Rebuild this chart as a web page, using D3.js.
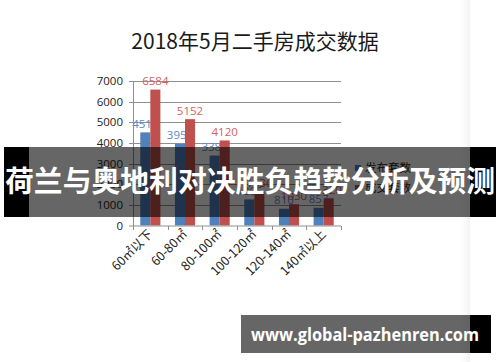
<!DOCTYPE html>
<html><head><meta charset="utf-8">
<script src="https://cdn.jsdelivr.net/npm/d3@7"></script>
<style>html,body{margin:0;padding:0;background:#fff;}svg{display:block;}</style>
</head><body>
<svg id="c" width="500" height="362"></svg>
<script>
const categories = ["60㎡以下","60-80㎡","80-100㎡","100-120㎡","120-140㎡","140㎡以上"];
const seriesNames = ["发布套数","成交套数"];
const published = [4511,3955,3388,1265,810,857];
const deals = [6584,5152,4120,1636,1030,1320];
const yTicks = [0,1000,2000,3000,4000,5000,6000,7000];
const title = "2018年5月二手房成交数据";
const bannerText = "荷兰与奥地利对决胜负趋势分析及预测";
const watermark = "www.global-pazhenren.com";
const colors = ["#4F81BD","#C0504D"];
const labelColors = ["#5B8BC9","#D6605C"];

const svg = d3.select("#c");
const cjk = "'Noto Sans CJK SC','Noto Sans',sans-serif";
const num = "'Open Sans','Liberation Sans',sans-serif";

// right edge shade of the embedded picture
const defs = svg.append("defs");
const g1 = defs.append("linearGradient").attr("id","edge").attr("x1","0").attr("x2","1");
g1.append("stop").attr("offset","0").attr("stop-color","#fff");
g1.append("stop").attr("offset","1").attr("stop-color","#f3f3f3");
svg.append("rect").attr("x",461).attr("y",0).attr("width",9).attr("height",362).attr("fill","url(#edge)");

svg.append("text").attr("x",255).attr("y",49).attr("text-anchor","middle")
  .attr("font-family",cjk).attr("font-size",21).attr("fill","#1a1a1a").text(title);

const x0 = d3.scaleBand().domain(categories).range([133,341]).paddingInner(0.42).paddingOuter(0.21);
const x1 = d3.scaleBand().domain([0,1]).range([0,x0.bandwidth()]);
const y = d3.scaleLinear().domain([0,7000]).range([225.5,81]);

// gridlines
svg.append("g").selectAll("line").data(yTicks.filter(d=>d>0)).join("line")
  .attr("x1",129).attr("x2",341).attr("y1",d=>Math.round(y(d))+0.5).attr("y2",d=>Math.round(y(d))+0.5)
  .attr("stroke","#8f8f8f").attr("stroke-width",1);
// tick labels
svg.append("g").selectAll("text").data(yTicks).join("text")
  .attr("x",123).attr("y",d=>Math.round(y(d))+4).attr("text-anchor","end")
  .attr("font-family",num).attr("font-size",11.5).attr("fill","#222").text(d=>d);

// bars
const seriesData = [published, deals];
seriesData.forEach((vals,si)=>{
  svg.append("g").selectAll("rect").data(vals).join("rect")
    .attr("x",(d,i)=>x0(categories[i])+x1(si)).attr("width",x1.bandwidth())
    .attr("y",d=>y(d)).attr("height",d=>y(0)-y(d)).attr("fill",colors[si]);
  svg.append("g").selectAll("text").data(vals).join("text")
    .attr("x",(d,i)=>x0(categories[i])+x1(si)+x1.bandwidth()/2).attr("y",d=>y(d)-4.5)
    .attr("text-anchor","middle").attr("font-family",num).attr("font-size",11.5)
    .attr("fill",labelColors[si]).text(d=>d);
});

// axes lines
svg.append("line").attr("x1",133.5).attr("x2",133.5).attr("y1",81).attr("y2",229).attr("stroke","#8f8f8f");
svg.append("line").attr("x1",129).attr("x2",341).attr("y1",226).attr("y2",226).attr("stroke","#8f8f8f");
const bounds = categories.map(c=>x0(c)-x0.step()*0.21).concat([341]);
svg.append("g").selectAll("line").data(bounds).join("line")
  .attr("x1",d=>Math.round(d)+0.5).attr("x2",d=>Math.round(d)+0.5).attr("y1",226).attr("y2",230)
  .attr("stroke","#8f8f8f");

// x labels
svg.append("g").selectAll("text").data(categories).join("text")
  .attr("transform",c=>`translate(${x0(c)+x0.bandwidth()/2+3},235) rotate(-45)`)
  .attr("text-anchor","end").attr("font-family",cjk).attr("font-size",12.5).attr("fill","#222").text(c=>c);

// legend
seriesNames.forEach((n,i)=>{
  svg.append("rect").attr("x",355).attr("y",165+i*20).attr("width",6).attr("height",6).attr("fill",colors[i]);
  svg.append("text").attr("x",365).attr("y",172+i*20).attr("font-family",cjk).attr("font-size",11.5)
    .attr("fill","#222").text(n);
});

// banner overlay
svg.append("rect").attr("x",4).attr("y",147).attr("width",25).attr("height",70).attr("fill","#000");
svg.append("rect").attr("x",470).attr("y",147).attr("width",26).attr("height",70).attr("fill","#000");
svg.append("rect").attr("x",29).attr("y",147).attr("width",441).attr("height",70).attr("fill","rgba(0,0,0,0.6)");
svg.append("text").attr("x",250).attr("y",192).attr("text-anchor","middle")
  .attr("font-family",cjk).attr("font-weight","bold").attr("font-size",29).attr("fill","#fff")
  .attr("textLength",490).attr("lengthAdjust","spacingAndGlyphs").text(bannerText);

// watermark
svg.append("rect").attr("x",241).attr("y",315).attr("width",229).attr("height",38).attr("fill","rgba(0,0,0,0.6)");
svg.append("rect").attr("x",470).attr("y",315).attr("width",21).attr("height",38).attr("fill","#000");
svg.append("text").attr("x",251).attr("y",341).attr("font-family",num).attr("font-weight","bold")
  .attr("font-size",17).attr("fill","#fff").attr("textLength",228).attr("lengthAdjust","spacingAndGlyphs").text(watermark);
</script>
</body></html>
